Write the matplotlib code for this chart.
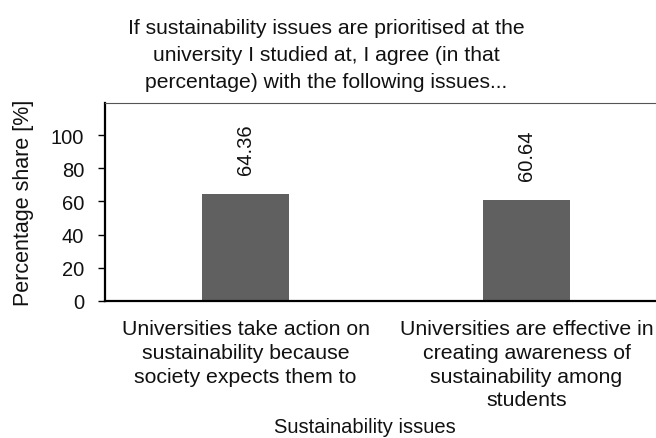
import matplotlib
matplotlib.use("Agg")
import matplotlib.pyplot as plt
import numpy as np

plt.rcParams['font.family'] = ['Liberation Sans', 'DejaVu Sans']

categories = [
    "Universities take action on\nsustainability because\nsociety expects them to",
    "Universities are effective in\ncreating awareness of\nsustainability among\nstudents",
]
values = [64.36, 60.64]
value_labels = ["64.36", "60.64"]
y_ticks = [0, 20, 40, 60, 80, 100]

title = ("If sustainability issues are prioritised at the\n"
         "university I studied at, I agree (in that\n"
         "percentage) with the following issues...")

W, H = 656, 439
fig = plt.figure(figsize=(W / 100, H / 100), dpi=100)
ax_left, ax_right, ax_top, ax_bottom = 105, 667, 104, 302
ax = fig.add_axes([ax_left / W, 1 - ax_bottom / H,
                   (ax_right - ax_left) / W, (ax_bottom - ax_top) / H])

x = np.arange(len(categories))
ax.bar(x, values, width=0.312, color="#606060", zorder=2)

for xi, v, lab in zip(x, values, value_labels):
    ax.annotate(lab, (xi, v), xytext=(0, 14.5), textcoords="offset points",
                rotation=90, ha="center", va="bottom", fontsize=14.5,
                color="#111111")

ax.set_xlim(-0.5, 1.5)
ax.set_ylim(0, 119.3)
ax.set_yticks(y_ticks)
ax.set_xticks(x)
ax.set_xticklabels(categories, fontsize=15.3, linespacing=1.32, color="#111111")
ax.tick_params(axis="y", labelsize=14.5, length=5, width=1, direction="out",
               pad=10, labelcolor="#111111")
ax.tick_params(axis="x", length=0, pad=13)

ax.spines["left"].set_linewidth(1.6)
ax.spines["bottom"].set_linewidth(1.6)
ax.spines["top"].set_linewidth(0.8)
ax.spines["top"].set_color("#555555")
ax.spines["right"].set_visible(False)

ax.set_ylabel("Percentage share [%]", fontsize=15.5, color="#111111")
ax.yaxis.set_label_coords((24 - ax_left) / (ax_right - ax_left), 0.5)
ax.set_xlabel("Sustainability issues", fontsize=14.5, color="#111111")
ax.xaxis.set_label_coords((365 - ax_left) / (ax_right - ax_left),
                          -(428 - ax_bottom) / (ax_bottom - ax_top))
ax.xaxis.label.set_verticalalignment("center")
ax.yaxis.label.set_verticalalignment("center")

fig.text(326 / W, 1 - 88 / H, title, ha="center", va="baseline", fontsize=15.2,
         linespacing=1.55, color="#111111")

fig.savefig("out.png", dpi=100)
